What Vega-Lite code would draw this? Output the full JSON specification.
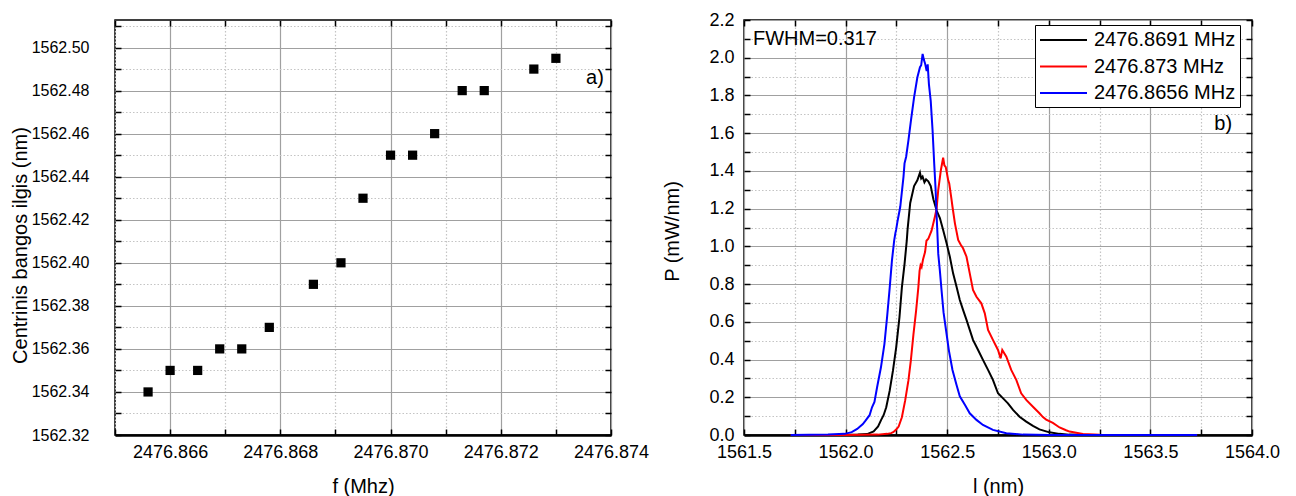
{
  "$schema": "https://vega.github.io/schema/vega-lite/v6.json",
  "autosize": {"type": "pad"},
  "padding": {"left": 9, "top": 10, "right": 0, "bottom": 0},
  "background": "white",
  "bounds": "flush",
  "spacing": 133,
  "config": {
    "font": "Liberation Sans",
    "view": {"stroke": "black", "strokeWidth": 1.5},
    "axis": {
      "labelFont": "Liberation Sans", "titleFont": "Liberation Sans",
      "labelColor": "black", "titleColor": "black", "titleFontWeight": "normal",
      "titleFontSize": 20, "labelFontSize": 18, "tickColor": "black", "tickWidth": 1.5,
      "tickSize": -6, "domain": false, "gridWidth": 1.2, "labelOverlap": false, "labelFlush": false
    }
  },
  "datasets": {
    "pts": [
      {"f": 2476.8656, "lam": 1562.34}, {"f": 2476.8660, "lam": 1562.35}, {"f": 2476.8665, "lam": 1562.35},
      {"f": 2476.8669, "lam": 1562.36}, {"f": 2476.8673, "lam": 1562.36}, {"f": 2476.8678, "lam": 1562.37},
      {"f": 2476.8686, "lam": 1562.39}, {"f": 2476.8691, "lam": 1562.40}, {"f": 2476.8695, "lam": 1562.43},
      {"f": 2476.8700, "lam": 1562.45}, {"f": 2476.8704, "lam": 1562.45}, {"f": 2476.8708, "lam": 1562.46},
      {"f": 2476.8713, "lam": 1562.48}, {"f": 2476.8717, "lam": 1562.48}, {"f": 2476.8726, "lam": 1562.49},
      {"f": 2476.8730, "lam": 1562.495}
    ],
    "spec": [
      {"s": "2476.8691 MHz", "l": 1561.73, "P": 0}, {"s": "2476.8691 MHz", "l": 1561.98, "P": 0},
      {"s": "2476.8691 MHz", "l": 1562.06, "P": 0.002}, {"s": "2476.8691 MHz", "l": 1562.106, "P": 0.005},
      {"s": "2476.8691 MHz", "l": 1562.138, "P": 0.019}, {"s": "2476.8691 MHz", "l": 1562.16, "P": 0.045},
      {"s": "2476.8691 MHz", "l": 1562.175, "P": 0.08}, {"s": "2476.8691 MHz", "l": 1562.187, "P": 0.105},
      {"s": "2476.8691 MHz", "l": 1562.2, "P": 0.147}, {"s": "2476.8691 MHz", "l": 1562.217, "P": 0.235},
      {"s": "2476.8691 MHz", "l": 1562.233, "P": 0.341}, {"s": "2476.8691 MHz", "l": 1562.249, "P": 0.465},
      {"s": "2476.8691 MHz", "l": 1562.265, "P": 0.624}, {"s": "2476.8691 MHz", "l": 1562.277, "P": 0.783},
      {"s": "2476.8691 MHz", "l": 1562.29, "P": 0.906}, {"s": "2476.8691 MHz", "l": 1562.301, "P": 1.03},
      {"s": "2476.8691 MHz", "l": 1562.305, "P": 1.09}, {"s": "2476.8691 MHz", "l": 1562.318, "P": 1.23},
      {"s": "2476.8691 MHz", "l": 1562.337, "P": 1.32}, {"s": "2476.8691 MHz", "l": 1562.353, "P": 1.35},
      {"s": "2476.8691 MHz", "l": 1562.366, "P": 1.39}, {"s": "2476.8691 MHz", "l": 1562.372, "P": 1.36},
      {"s": "2476.8691 MHz", "l": 1562.379, "P": 1.37}, {"s": "2476.8691 MHz", "l": 1562.388, "P": 1.34},
      {"s": "2476.8691 MHz", "l": 1562.396, "P": 1.355}, {"s": "2476.8691 MHz", "l": 1562.407, "P": 1.345},
      {"s": "2476.8691 MHz", "l": 1562.419, "P": 1.32}, {"s": "2476.8691 MHz", "l": 1562.432, "P": 1.25},
      {"s": "2476.8691 MHz", "l": 1562.448, "P": 1.19}, {"s": "2476.8691 MHz", "l": 1562.464, "P": 1.15},
      {"s": "2476.8691 MHz", "l": 1562.48, "P": 1.087}, {"s": "2476.8691 MHz", "l": 1562.497, "P": 1.016},
      {"s": "2476.8691 MHz", "l": 1562.513, "P": 0.945}, {"s": "2476.8691 MHz", "l": 1562.529, "P": 0.857},
      {"s": "2476.8691 MHz", "l": 1562.546, "P": 0.786}, {"s": "2476.8691 MHz", "l": 1562.562, "P": 0.716},
      {"s": "2476.8691 MHz", "l": 1562.578, "P": 0.663}, {"s": "2476.8691 MHz", "l": 1562.595, "P": 0.61},
      {"s": "2476.8691 MHz", "l": 1562.611, "P": 0.557}, {"s": "2476.8691 MHz", "l": 1562.627, "P": 0.504},
      {"s": "2476.8691 MHz", "l": 1562.652, "P": 0.451}, {"s": "2476.8691 MHz", "l": 1562.676, "P": 0.398},
      {"s": "2476.8691 MHz", "l": 1562.701, "P": 0.345}, {"s": "2476.8691 MHz", "l": 1562.725, "P": 0.292},
      {"s": "2476.8691 MHz", "l": 1562.75, "P": 0.221}, {"s": "2476.8691 MHz", "l": 1562.775, "P": 0.194},
      {"s": "2476.8691 MHz", "l": 1562.799, "P": 0.168}, {"s": "2476.8691 MHz", "l": 1562.824, "P": 0.133},
      {"s": "2476.8691 MHz", "l": 1562.856, "P": 0.097}, {"s": "2476.8691 MHz", "l": 1562.889, "P": 0.071},
      {"s": "2476.8691 MHz", "l": 1562.922, "P": 0.048}, {"s": "2476.8691 MHz", "l": 1562.954, "P": 0.03},
      {"s": "2476.8691 MHz", "l": 1563.003, "P": 0.014}, {"s": "2476.8691 MHz", "l": 1563.052, "P": 0.006},
      {"s": "2476.8691 MHz", "l": 1563.1, "P": 0.002}, {"s": "2476.8691 MHz", "l": 1563.2, "P": 0},
      {"s": "2476.8691 MHz", "l": 1563.73, "P": 0},

      {"s": "2476.873 MHz", "l": 1561.73, "P": 0}, {"s": "2476.873 MHz", "l": 1562.0, "P": 0},
      {"s": "2476.873 MHz", "l": 1562.158, "P": 0.002}, {"s": "2476.873 MHz", "l": 1562.204, "P": 0.006},
      {"s": "2476.873 MHz", "l": 1562.224, "P": 0.01}, {"s": "2476.873 MHz", "l": 1562.236, "P": 0.016},
      {"s": "2476.873 MHz", "l": 1562.25, "P": 0.03}, {"s": "2476.873 MHz", "l": 1562.261, "P": 0.045},
      {"s": "2476.873 MHz", "l": 1562.277, "P": 0.094}, {"s": "2476.873 MHz", "l": 1562.293, "P": 0.182},
      {"s": "2476.873 MHz", "l": 1562.309, "P": 0.288}, {"s": "2476.873 MHz", "l": 1562.321, "P": 0.394},
      {"s": "2476.873 MHz", "l": 1562.334, "P": 0.535}, {"s": "2476.873 MHz", "l": 1562.347, "P": 0.659},
      {"s": "2476.873 MHz", "l": 1562.358, "P": 0.783}, {"s": "2476.873 MHz", "l": 1562.364, "P": 0.87},
      {"s": "2476.873 MHz", "l": 1562.369, "P": 0.9}, {"s": "2476.873 MHz", "l": 1562.374, "P": 0.89},
      {"s": "2476.873 MHz", "l": 1562.381, "P": 0.93}, {"s": "2476.873 MHz", "l": 1562.391, "P": 0.97},
      {"s": "2476.873 MHz", "l": 1562.398, "P": 1.03}, {"s": "2476.873 MHz", "l": 1562.407, "P": 1.04},
      {"s": "2476.873 MHz", "l": 1562.423, "P": 1.083}, {"s": "2476.873 MHz", "l": 1562.44, "P": 1.16},
      {"s": "2476.873 MHz", "l": 1562.448, "P": 1.2}, {"s": "2476.873 MHz", "l": 1562.456, "P": 1.3},
      {"s": "2476.873 MHz", "l": 1562.469, "P": 1.405}, {"s": "2476.873 MHz", "l": 1562.48, "P": 1.47},
      {"s": "2476.873 MHz", "l": 1562.486, "P": 1.43}, {"s": "2476.873 MHz", "l": 1562.493, "P": 1.42},
      {"s": "2476.873 MHz", "l": 1562.505, "P": 1.35}, {"s": "2476.873 MHz", "l": 1562.51, "P": 1.334},
      {"s": "2476.873 MHz", "l": 1562.521, "P": 1.25}, {"s": "2476.873 MHz", "l": 1562.526, "P": 1.21},
      {"s": "2476.873 MHz", "l": 1562.538, "P": 1.122}, {"s": "2476.873 MHz", "l": 1562.554, "P": 1.034},
      {"s": "2476.873 MHz", "l": 1562.566, "P": 1.01}, {"s": "2476.873 MHz", "l": 1562.578, "P": 0.99},
      {"s": "2476.873 MHz", "l": 1562.595, "P": 0.945}, {"s": "2476.873 MHz", "l": 1562.611, "P": 0.857},
      {"s": "2476.873 MHz", "l": 1562.627, "P": 0.769}, {"s": "2476.873 MHz", "l": 1562.644, "P": 0.733},
      {"s": "2476.873 MHz", "l": 1562.668, "P": 0.698}, {"s": "2476.873 MHz", "l": 1562.685, "P": 0.645},
      {"s": "2476.873 MHz", "l": 1562.701, "P": 0.557}, {"s": "2476.873 MHz", "l": 1562.725, "P": 0.504},
      {"s": "2476.873 MHz", "l": 1562.75, "P": 0.451}, {"s": "2476.873 MHz", "l": 1562.763, "P": 0.406},
      {"s": "2476.873 MHz", "l": 1562.771, "P": 0.451}, {"s": "2476.873 MHz", "l": 1562.791, "P": 0.415},
      {"s": "2476.873 MHz", "l": 1562.815, "P": 0.345}, {"s": "2476.873 MHz", "l": 1562.84, "P": 0.292},
      {"s": "2476.873 MHz", "l": 1562.864, "P": 0.221}, {"s": "2476.873 MHz", "l": 1562.889, "P": 0.186},
      {"s": "2476.873 MHz", "l": 1562.922, "P": 0.15}, {"s": "2476.873 MHz", "l": 1562.954, "P": 0.115},
      {"s": "2476.873 MHz", "l": 1562.971, "P": 0.095}, {"s": "2476.873 MHz", "l": 1562.987, "P": 0.082},
      {"s": "2476.873 MHz", "l": 1563.02, "P": 0.064}, {"s": "2476.873 MHz", "l": 1563.053, "P": 0.04},
      {"s": "2476.873 MHz", "l": 1563.085, "P": 0.025}, {"s": "2476.873 MHz", "l": 1563.102, "P": 0.018},
      {"s": "2476.873 MHz", "l": 1563.168, "P": 0.005}, {"s": "2476.873 MHz", "l": 1563.25, "P": 0.001},
      {"s": "2476.873 MHz", "l": 1563.73, "P": 0},

      {"s": "2476.8656 MHz", "l": 1561.73, "P": 0}, {"s": "2476.8656 MHz", "l": 1561.913, "P": 0.002},
      {"s": "2476.8656 MHz", "l": 1561.995, "P": 0.006}, {"s": "2476.8656 MHz", "l": 1562.03, "P": 0.015},
      {"s": "2476.8656 MHz", "l": 1562.057, "P": 0.032}, {"s": "2476.8656 MHz", "l": 1562.085, "P": 0.058},
      {"s": "2476.8656 MHz", "l": 1562.098, "P": 0.076}, {"s": "2476.8656 MHz", "l": 1562.118, "P": 0.105},
      {"s": "2476.8656 MHz", "l": 1562.13, "P": 0.147}, {"s": "2476.8656 MHz", "l": 1562.142, "P": 0.175},
      {"s": "2476.8656 MHz", "l": 1562.155, "P": 0.253}, {"s": "2476.8656 MHz", "l": 1562.174, "P": 0.359},
      {"s": "2476.8656 MHz", "l": 1562.191, "P": 0.482}, {"s": "2476.8656 MHz", "l": 1562.204, "P": 0.624},
      {"s": "2476.8656 MHz", "l": 1562.217, "P": 0.78}, {"s": "2476.8656 MHz", "l": 1562.228, "P": 0.924},
      {"s": "2476.8656 MHz", "l": 1562.239, "P": 1.03}, {"s": "2476.8656 MHz", "l": 1562.245, "P": 1.07},
      {"s": "2476.8656 MHz", "l": 1562.249, "P": 1.09}, {"s": "2476.8656 MHz", "l": 1562.256, "P": 1.136},
      {"s": "2476.8656 MHz", "l": 1562.269, "P": 1.21}, {"s": "2476.8656 MHz", "l": 1562.285, "P": 1.37},
      {"s": "2476.8656 MHz", "l": 1562.29, "P": 1.44}, {"s": "2476.8656 MHz", "l": 1562.298, "P": 1.475},
      {"s": "2476.8656 MHz", "l": 1562.309, "P": 1.56}, {"s": "2476.8656 MHz", "l": 1562.322, "P": 1.67},
      {"s": "2476.8656 MHz", "l": 1562.337, "P": 1.79}, {"s": "2476.8656 MHz", "l": 1562.353, "P": 1.895},
      {"s": "2476.8656 MHz", "l": 1562.366, "P": 1.95}, {"s": "2476.8656 MHz", "l": 1562.372, "P": 1.96},
      {"s": "2476.8656 MHz", "l": 1562.379, "P": 2.02}, {"s": "2476.8656 MHz", "l": 1562.385, "P": 1.99},
      {"s": "2476.8656 MHz", "l": 1562.391, "P": 1.97}, {"s": "2476.8656 MHz", "l": 1562.399, "P": 1.93},
      {"s": "2476.8656 MHz", "l": 1562.404, "P": 1.965}, {"s": "2476.8656 MHz", "l": 1562.41, "P": 1.86},
      {"s": "2476.8656 MHz", "l": 1562.419, "P": 1.77}, {"s": "2476.8656 MHz", "l": 1562.428, "P": 1.615},
      {"s": "2476.8656 MHz", "l": 1562.436, "P": 1.44}, {"s": "2476.8656 MHz", "l": 1562.443, "P": 1.3},
      {"s": "2476.8656 MHz", "l": 1562.448, "P": 1.16}, {"s": "2476.8656 MHz", "l": 1562.451, "P": 1.09},
      {"s": "2476.8656 MHz", "l": 1562.456, "P": 0.96}, {"s": "2476.8656 MHz", "l": 1562.464, "P": 0.87},
      {"s": "2476.8656 MHz", "l": 1562.472, "P": 0.769}, {"s": "2476.8656 MHz", "l": 1562.482, "P": 0.65},
      {"s": "2476.8656 MHz", "l": 1562.495, "P": 0.55}, {"s": "2476.8656 MHz", "l": 1562.508, "P": 0.45},
      {"s": "2476.8656 MHz", "l": 1562.526, "P": 0.345}, {"s": "2476.8656 MHz", "l": 1562.546, "P": 0.265},
      {"s": "2476.8656 MHz", "l": 1562.562, "P": 0.205}, {"s": "2476.8656 MHz", "l": 1562.587, "P": 0.16},
      {"s": "2476.8656 MHz", "l": 1562.611, "P": 0.115}, {"s": "2476.8656 MHz", "l": 1562.644, "P": 0.08},
      {"s": "2476.8656 MHz", "l": 1562.676, "P": 0.053}, {"s": "2476.8656 MHz", "l": 1562.725, "P": 0.027},
      {"s": "2476.8656 MHz", "l": 1562.791, "P": 0.009}, {"s": "2476.8656 MHz", "l": 1562.873, "P": 0.002},
      {"s": "2476.8656 MHz", "l": 1563.0, "P": 0}, {"s": "2476.8656 MHz", "l": 1563.73, "P": 0}
    ]
  },
  "hconcat": [
    {
      "width": 496,
      "height": 415,
      "data": {"name": "pts"},
      "layer": [
        {
          "mark": {"type": "square", "size": 85, "color": "black", "opacity": 1},
          "encoding": {
            "x": {
              "field": "f", "type": "quantitative",
              "scale": {"domain": [2476.865, 2476.874], "nice": false, "zero": false},
              "axis": {
                "orient": "bottom",
                "values": [2476.865, 2476.866, 2476.867, 2476.868, 2476.869, 2476.87, 2476.871, 2476.872, 2476.873, 2476.874],
                "labelExpr": "round(datum.value*1000) % 2 == 0 ? format(datum.value, '.3f') : ''",
                "labelPadding": 14.5,
                "gridDash": {"condition": {"test": "round(datum.value*1000) % 2 == 0", "value": []}, "value": [1.5, 2]},
                "gridColor": {"condition": {"test": "round(datum.value*1000) % 2 == 0", "value": "#a0a0a0"}, "value": "#c4c4c4"},
                "title": "f (Mhz)", "titleY": 51, "titleBaseline": "middle",
                "domain": true, "domainWidth": 2.5, "domainColor": "black"
              }
            },
            "y": {
              "field": "lam", "type": "quantitative",
              "scale": {"domain": [1562.32, 1562.5128], "nice": false, "zero": false},
              "axis": {
                "orient": "left",
                "values": [1562.32, 1562.33, 1562.34, 1562.35, 1562.36, 1562.37, 1562.38, 1562.39, 1562.4, 1562.41, 1562.42, 1562.43, 1562.44, 1562.45, 1562.46, 1562.47, 1562.48, 1562.49, 1562.5, 1562.51],
                "labelExpr": "round(datum.value*100) % 2 == 0 ? format(datum.value, '.2f') : ''",
                "labelFontSize": 16,
                "labelPadding": 32,
                "gridDash": {"condition": {"test": "round(datum.value*100) % 2 == 0", "value": []}, "value": [1.5, 2]},
                "gridColor": {"condition": {"test": "round(datum.value*100) % 2 == 0", "value": "#a0a0a0"}, "value": "#c4c4c4"},
                "title": "Centrinis bangos ilgis (nm)", "titleX": -95, "titleY": 225, "titleBaseline": "middle"
              }
            }
          }
        },
        {
          "mark": {"type": "point", "opacity": 0},
          "encoding": {
            "x": {
              "field": "f", "type": "quantitative",
              "scale": {"domain": [2476.865, 2476.874], "nice": false, "zero": false},
              "axis": {"orient": "top", "labels": false, "grid": false, "domain": false, "title": null,
                       "values": [2476.865, 2476.866, 2476.867, 2476.868, 2476.869, 2476.87, 2476.871, 2476.872, 2476.873, 2476.874]}
            },
            "y": {
              "field": "lam", "type": "quantitative",
              "scale": {"domain": [1562.32, 1562.5128], "nice": false, "zero": false},
              "axis": {"orient": "right", "labels": false, "grid": false, "domain": false, "title": null,
                       "values": [1562.32, 1562.33, 1562.34, 1562.35, 1562.36, 1562.37, 1562.38, 1562.39, 1562.4, 1562.41, 1562.42, 1562.43, 1562.44, 1562.45, 1562.46, 1562.47, 1562.48, 1562.49, 1562.5, 1562.51]}
            }
          }
        },
        {
          "data": {"values": [{"t": "a)"}]},
          "mark": {"type": "text", "fontSize": 20, "align": "right", "baseline": "middle", "font": "Liberation Sans", "color": "black"},
          "encoding": {
            "x": {"datum": 2476.87387, "type": "quantitative", "axis": null, "scale": {"domain": [2476.865, 2476.874], "nice": false, "zero": false}},
            "y": {"datum": 1562.486, "type": "quantitative", "axis": null, "scale": {"domain": [1562.32, 1562.5128], "nice": false, "zero": false}},
            "text": {"field": "t"}
          }
        }
      ],
      "resolve": {"axis": {"x": "independent", "y": "independent"}}
    },
    {
      "width": 508,
      "height": 415,
      "data": {"name": "spec"},
      "layer": [
        {
          "mark": {"type": "line", "strokeWidth": 2, "interpolate": "linear"},
          "encoding": {
            "x": {
              "field": "l", "type": "quantitative",
              "scale": {"domain": [1561.5, 1564.0], "nice": false, "zero": false},
              "axis": {
                "orient": "bottom",
                "values": [1561.5, 1561.75, 1562.0, 1562.25, 1562.5, 1562.75, 1563.0, 1563.25, 1563.5, 1563.75, 1564.0],
                "labelExpr": "round(datum.value*4) % 2 == 0 ? format(datum.value, '.1f') : ''",
                "labelPadding": 14.5,
                "gridDash": {"condition": {"test": "round(datum.value*4) % 2 == 0", "value": []}, "value": [1.5, 2]},
                "gridColor": {"condition": {"test": "round(datum.value*4) % 2 == 0", "value": "#a0a0a0"}, "value": "#c4c4c4"},
                "title": "l (nm)", "titleY": 51, "titleBaseline": "middle",
                "domain": true, "domainWidth": 2.5, "domainColor": "black"
              }
            },
            "y": {
              "field": "P", "type": "quantitative",
              "scale": {"domain": [0, 2.2], "nice": false},
              "axis": {
                "orient": "left",
                "values": [0, 0.1, 0.2, 0.3, 0.4, 0.5, 0.6, 0.7, 0.8, 0.9, 1.0, 1.1, 1.2, 1.3, 1.4, 1.5, 1.6, 1.7, 1.8, 1.9, 2.0, 2.1, 2.2],
                "labelExpr": "round(datum.value*10) % 2 == 0 ? format(datum.value, '.1f') : ''",
                "labelPadding": 16,
                "gridDash": {"condition": {"test": "round(datum.value*10) % 2 == 0", "value": []}, "value": [1.5, 2]},
                "gridColor": {"condition": {"test": "round(datum.value*10) % 2 == 0", "value": "#a0a0a0"}, "value": "#c4c4c4"},
                "title": "P (mW/nm)", "titleX": -72, "titleY": 211, "titleBaseline": "middle"
              }
            },
            "color": {
              "field": "s", "type": "nominal",
              "scale": {"domain": ["2476.8691 MHz", "2476.873 MHz", "2476.8656 MHz"], "range": ["#000000", "#ff0000", "#0000ff"]},
              "legend": {
                "orient": "none", "legendX": 920, "legendY": 5, "title": null,
                "symbolType": "M-1,0H3.7", "symbolSize": 400, "symbolStrokeWidth": 2,
                "labelFontSize": 20, "labelFont": "Liberation Sans", "labelColor": "black", "labelLimit": 300,
                "strokeColor": "black", "fillColor": "white", "padding": 4, "rowPadding": 5.5,
                "labelOffset": 33, "cornerRadius": 0
              }
            }
          }
        },
        {
          "mark": {"type": "point", "opacity": 0},
          "encoding": {
            "x": {
              "field": "l", "type": "quantitative",
              "scale": {"domain": [1561.5, 1564.0], "nice": false, "zero": false},
              "axis": {"orient": "top", "labels": false, "grid": false, "domain": false, "title": null,
                       "values": [1561.5, 1561.75, 1562.0, 1562.25, 1562.5, 1562.75, 1563.0, 1563.25, 1563.5, 1563.75, 1564.0]}
            },
            "y": {
              "field": "P", "type": "quantitative",
              "scale": {"domain": [0, 2.2], "nice": false},
              "axis": {"orient": "right", "labels": false, "grid": false, "domain": false, "title": null,
                       "values": [0, 0.1, 0.2, 0.3, 0.4, 0.5, 0.6, 0.7, 0.8, 0.9, 1.0, 1.1, 1.2, 1.3, 1.4, 1.5, 1.6, 1.7, 1.8, 1.9, 2.0, 2.1, 2.2]}
            }
          }
        },
        {
          "data": {"values": [{"t": "FWHM=0.317"}]},
          "mark": {"type": "text", "fontSize": 20, "align": "left", "baseline": "middle", "font": "Liberation Sans", "color": "black"},
          "encoding": {
            "x": {"datum": 1561.544, "type": "quantitative", "axis": null, "scale": {"domain": [1561.5, 1564.0], "nice": false, "zero": false}},
            "y": {"datum": 2.1, "type": "quantitative", "axis": null, "scale": {"domain": [0, 2.2], "nice": false}},
            "text": {"field": "t"}
          }
        },
        {
          "data": {"values": [{"t": "b)"}]},
          "mark": {"type": "text", "fontSize": 20, "align": "right", "baseline": "middle", "font": "Liberation Sans", "color": "black"},
          "encoding": {
            "x": {"datum": 1563.902, "type": "quantitative", "axis": null, "scale": {"domain": [1561.5, 1564.0], "nice": false, "zero": false}},
            "y": {"datum": 1.649, "type": "quantitative", "axis": null, "scale": {"domain": [0, 2.2], "nice": false}},
            "text": {"field": "t"}
          }
        }
      ],
      "resolve": {"axis": {"x": "independent", "y": "independent"}}
    }
  ]
}
